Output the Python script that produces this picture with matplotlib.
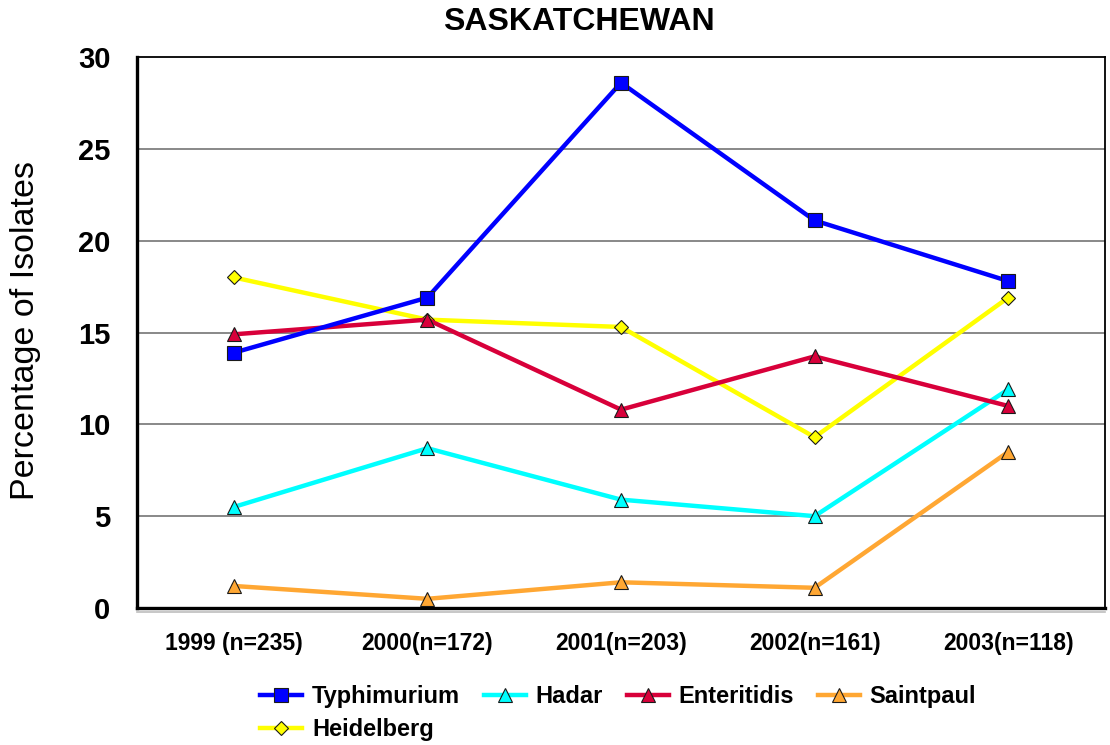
import matplotlib
matplotlib.use("Agg")
import matplotlib.pyplot as plt
from matplotlib.lines import Line2D

plt.rcParams['font.family'] = ['Liberation Sans', 'DejaVu Sans']

categories = ["1999 (n=235)", "2000(n=172)", "2001(n=203)", "2002(n=161)", "2003(n=118)"]
typhimurium = [13.9, 16.9, 28.6, 21.1, 17.8]
hadar = [5.5, 8.7, 5.9, 5.0, 11.9]
enteritidis = [14.9, 15.7, 10.8, 13.7, 11.0]
saintpaul = [1.2, 0.5, 1.4, 1.1, 8.5]
heidelberg = [18.0, 15.7, 15.3, 9.3, 16.9]
yticks = [0, 5, 10, 15, 20, 25, 30]

W, H = 1110, 745
fig = plt.figure(figsize=(W / 100, H / 100), dpi=100)
L, R, T, B = 137, 1105, 57, 608
ax = fig.add_axes([L / W, 1 - B / H, (R - L) / W, (B - T) / H])

x = list(range(len(categories)))
series = [
    ("Heidelberg", heidelberg, "#FFFF00", "D", 7.5, 1),
    ("Typhimurium", typhimurium, "#0000FF", "s", 10.5, 5),
    ("Hadar", hadar, "#00FFFF", "^", 10, 3),
    ("Enteritidis", enteritidis, "#D8003A", "^", 10, 4),
    ("Saintpaul", saintpaul, "#FFA733", "^", 10, 2),
]
handles = {}
for name, vals, col, mk, ms, z in series:
    h, = ax.plot(x, vals, color=col, lw=3.2, marker=mk, ms=ms, mfc=col,
                 mec="#1a1a1a", mew=0.8, zorder=z, label=name,
                 solid_joinstyle="round")
    handles[name] = h

ax.set_xlim(-0.5, len(categories) - 0.5)
ax.set_ylim(0, 30)
ax.set_yticks(yticks)
ax.set_yticklabels([str(v) for v in yticks], fontsize=21, fontweight="bold")
ax.set_xticks(x)
ax.set_xticklabels(categories, fontsize=16.5, fontweight="bold")
ax.tick_params(axis="y", length=0, pad=19)
ax.tick_params(axis="x", length=0, pad=17)

for v in yticks[1:-1]:
    ax.axhline(v, color="#7f7f7f", lw=1.3, zorder=0.5)

ax.spines["left"].set_linewidth(2.4)
ax.spines["bottom"].set_linewidth(2.4)
ax.spines["top"].set_linewidth(1.3)
ax.spines["right"].set_linewidth(1.3)
for s in ax.spines.values():
    s.set_color("black")

# shadow line under the plot area
ax.add_line(Line2D([0, 1], [-0.0075, -0.0075], transform=ax.transAxes,
                   color="#bdbdbd", lw=1.2, clip_on=False))

ax.set_ylabel("Percentage of Isolates", fontsize=24.5)
ax.yaxis.label.set_va("center")
ax.yaxis.set_label_coords((26 - L) / (R - L), (B - 330) / (B - T))

fig.text(579 / W, 1 - 22 / H, "SASKATCHEWAN", fontsize=23, fontweight="bold",
         ha="center", va="center")

order = ["Typhimurium", "Heidelberg", "Hadar", "Enteritidis", "Saintpaul"]
leg = fig.legend([handles[n] for n in order], order, ncol=4, loc="center",
                 bbox_to_anchor=(618 / W, 1 - 713 / H), frameon=False,
                 prop={"size": 17, "weight": "bold"}, handlelength=1.8,
                 handletextpad=0.4, columnspacing=1.0, labelspacing=0.42,
                 borderpad=0)

fig.savefig("out.png", dpi=100)
